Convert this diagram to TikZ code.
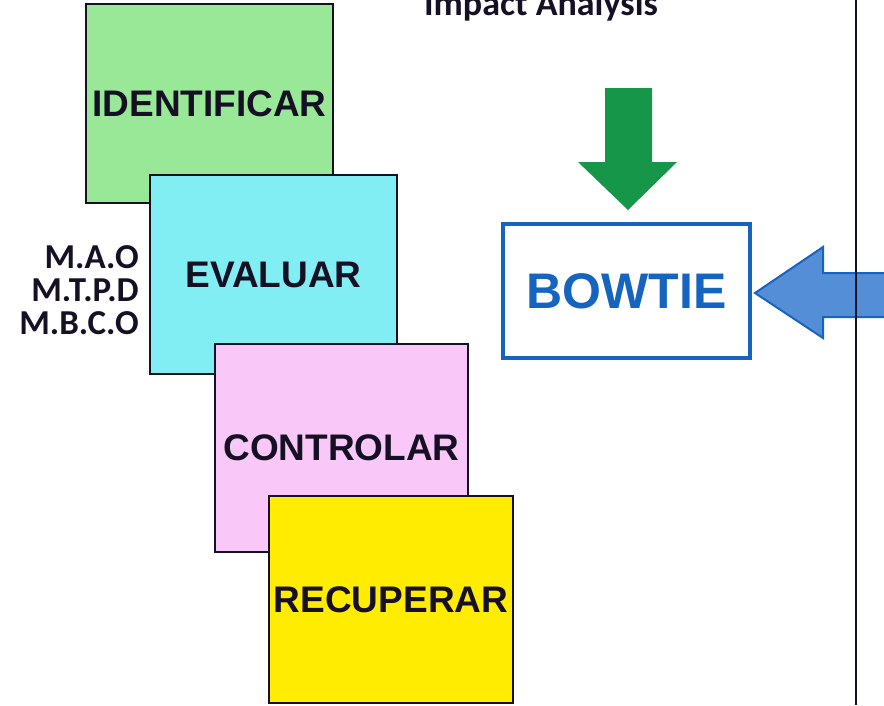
\documentclass[tikz,border=0pt]{standalone}
\usepackage{fontspec}
\setmainfont{Liberation Sans}
\newfontfamily\calfont{Carlito}
\usetikzlibrary{positioning}

\definecolor{idgreen}{RGB}{152,232,152}
\definecolor{evcyan}{RGB}{128,238,242}
\definecolor{ctpink}{RGB}{250,200,248}
\definecolor{rcyellow}{RGB}{255,236,0}
\definecolor{arrgreen}{RGB}{22,150,72}
\definecolor{bowblue}{RGB}{21,101,192}
\definecolor{arrblue}{RGB}{84,142,214}
\definecolor{inkdark}{RGB}{22,16,36}

\tikzset{
  stage/.style={draw=inkdark, line width=1.5pt, text=inkdark,
    font=\bfseries\fontsize{37}{40}\selectfont, inner sep=0pt},
  bowbox/.style={draw=bowblue, line width=4pt, text=bowblue, fill=white,
    font=\bfseries\fontsize{50}{54}\selectfont,
    minimum width=247pt, minimum height=134pt},
  sidelabel/.style={font=\calfont\bfseries\fontsize{35}{33}\selectfont,
    text=inkdark, align=right, inner sep=0pt}
}

\begin{document}
\begin{tikzpicture}[x=1pt, y=-1pt]
  \useasboundingbox (0,0) rectangle (884,705);

  \node[stage, fill=idgreen,  minimum width=247pt, minimum height=199pt] (ident) at (209.5,103.5) {IDENTIFICAR};
  \node[stage, fill=evcyan,   minimum width=247pt, minimum height=199pt] (evalu) at (273.5,274.5) {EVALUAR};
  \node[stage, fill=ctpink,   minimum width=253pt, minimum height=208pt] (contr) at (341.5,448)   {CONTROLAR};
  \node[stage, fill=rcyellow, minimum width=244pt, minimum height=207pt] (recup) at (391,599.5)   {RECUPERAR};

  \node[sidelabel, anchor=east] (metrics) at (139,290) {M.A.O\\M.T.P.D\\M.B.C.O};

  \node[font=\calfont\bfseries\fontsize{36}{40}\selectfont, text=inkdark, anchor=base, inner sep=0pt]
    (impact) at (541,15) {Impact Analysis};

  \node[bowbox] (bowtie) at (626.5,291) {BOWTIE};

  % block arrows
  \fill[arrgreen] (605,88) -- (652,88) -- (652,162) -- (677,162) -- (628,210)
    -- (578,162) -- (605,162) -- cycle;
  \filldraw[fill=arrblue, draw=bowblue, line width=2pt, line join=miter]
    (755,293) -- (823,247) -- (823,273) -- (886,273) -- (886,317)
    -- (823,317) -- (823,338) -- cycle;

  \coordinate (railtop) at (856,0);
  \coordinate (railbot) at (856,705);
  \draw[line width=1.5pt, inkdark] (railtop) -- (railbot);
\end{tikzpicture}
\end{document}
